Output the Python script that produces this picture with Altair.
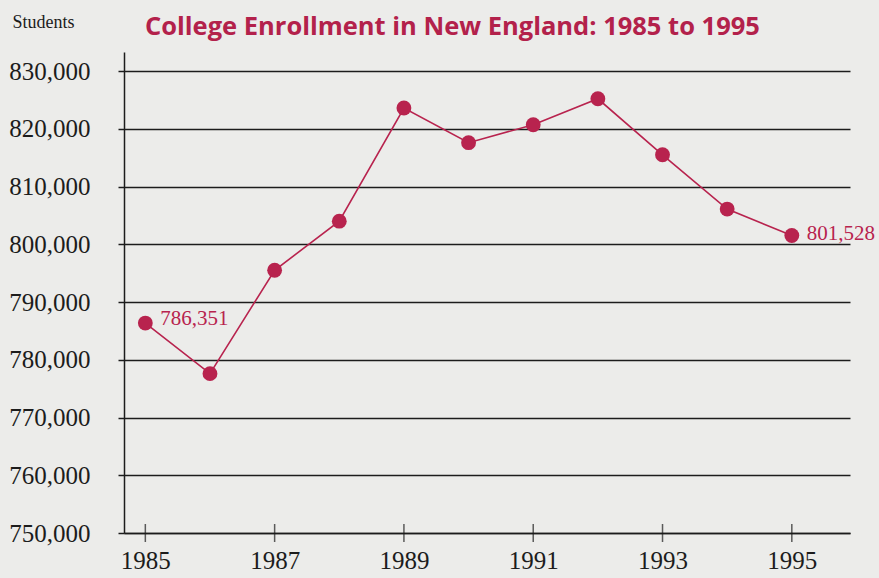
import altair as alt
import pandas as pd

# Fall enrollment, New England colleges
years = [1985, 1986, 1987, 1988, 1989, 1990, 1991, 1992, 1993, 1994, 1995]
students = [786351, 777600, 795500, 804000, 823600, 817600, 820700, 825200, 815500, 806100, 801528]

tick_years = [1985, 1987, 1989, 1991, 1993, 1995]
y_ticks = [750000, 760000, 770000, 780000, 790000, 800000, 810000, 820000, 830000]

CRIMSON = "#b8234e"
INK = "#1c1c1c"
SERIF = "Liberation Serif"

df = pd.DataFrame({"year": years, "students": students})
df["label"] = df["students"].map("{:,}".format)
first = df[df["year"] == years[0]]
last = df[df["year"] == years[-1]]
ticks = pd.DataFrame({"year": tick_years, "students": [y_ticks[0]] * len(tick_years)})

x_scale = alt.Scale(domain=[1984.67, 1995.9], nice=False, zero=False)
y_scale = alt.Scale(domain=[750000, 833300], nice=False, zero=False)

x_enc = alt.X(
    "year:Q",
    scale=x_scale,
    axis=alt.Axis(
        values=tick_years, format="d", ticks=False, grid=False, title=None,
        labelFont=SERIF, labelFontSize=25, labelColor=INK, labelPadding=15,
        domainColor=INK, domainWidth=1.5,
    ),
)
y_enc = alt.Y(
    "students:Q",
    scale=y_scale,
    axis=alt.Axis(
        values=y_ticks, format=",d", tickSize=6, tickColor=INK, tickWidth=1.5,
        grid=True, gridColor=INK, gridWidth=1.4,
        domainColor=INK, domainWidth=1.5,
        labelFont=SERIF, labelFontSize=25, labelColor=INK, labelPadding=28,
        title="Students", titleAngle=0, titleAlign="left", titleBaseline="middle",
        titleX=-112, titleY=-30, titleFont=SERIF, titleFontSize=18,
        titleFontWeight="normal", titleColor=INK,
    ),
)

base = alt.Chart(df).encode(x=x_enc, y=y_enc)
line = base.mark_line(color=CRIMSON, strokeWidth=1.6)
points = base.mark_circle(color=CRIMSON, size=220, opacity=1)

year_ticks = alt.Chart(ticks).mark_tick(
    orient="vertical", size=18, thickness=1.5, color=INK
).encode(x="year:Q", y="students:Q")

text_style = dict(align="left", baseline="middle", font=SERIF, fontSize=21, color=CRIMSON, dx=15)
first_label = alt.Chart(first).mark_text(dy=-4, **text_style).encode(
    x="year:Q", y="students:Q", text="label:N"
)
last_label = alt.Chart(last).mark_text(dy=-1, **text_style).encode(
    x="year:Q", y="students:Q", text="label:N"
)

chart = (
    alt.layer(year_ticks, line, points, first_label, last_label)
    .properties(
        width=726,
        height=481,
        autosize=alt.AutoSizeParams(type="none"),
        padding={"left": 124, "top": 52, "right": 29, "bottom": 45},
        background="#ececea",
        title=alt.TitleParams(
            "College Enrollment in New England: 1985 to 1995",
            anchor="start", frame="group", dx=21, offset=-27,
            font="Open Sans", fontSize=25.5, fontWeight="bold", color="#b3214b",
        ),
    )
    .configure_view(stroke=None)
)

chart.save("out.html", embed_options={"renderer": "svg", "actions": False})
